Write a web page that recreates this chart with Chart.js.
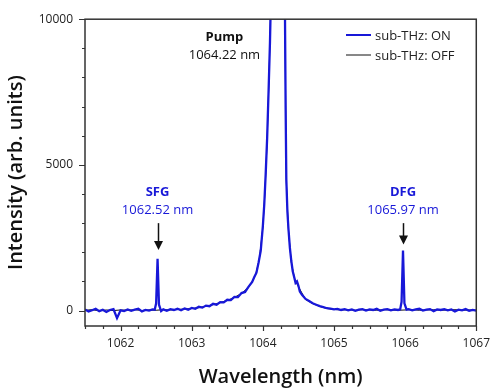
<!DOCTYPE html>
<html>
<head>
<meta charset="utf-8">
<script src="https://cdn.jsdelivr.net/npm/chart.js@4.4.0/dist/chart.umd.min.js"></script>
<style>
  html, body { margin: 0; padding: 0; background: #fff; }
</style>
</head>
<body>
<canvas id="myChart" width="500" height="390"></canvas>
<script>
'use strict';
// spectrum with sub-THz on (blue)
let wlOn = [1061.50, 1061.55, 1061.60, 1061.65, 1061.70, 1061.75, 1061.80, 1061.85, 1061.90, 1061.95,
  1062.00, 1062.05, 1062.10, 1062.15, 1062.20, 1062.25, 1062.30, 1062.35, 1062.40, 1062.45,
  1062.48, 1062.50, 1062.52, 1062.54, 1062.57,
  1062.60, 1062.65, 1062.70, 1062.75, 1062.80, 1062.85, 1062.90, 1062.95, 1063.00,
  1063.05, 1063.10, 1063.15, 1063.20, 1063.25, 1063.30, 1063.35, 1063.40, 1063.45, 1063.50,
  1063.55, 1063.60, 1063.65, 1063.70, 1063.75, 1063.80, 1063.85, 1063.88, 1063.91, 1063.94,
  1063.97, 1064.00, 1064.02, 1064.04, 1064.06, 1064.08, 1064.10, 1064.12, 1064.16, 1064.22,
  1064.28, 1064.31, 1064.32, 1064.33, 1064.345, 1064.36, 1064.38, 1064.40, 1064.42, 1064.44,
  1064.46, 1064.48, 1064.50, 1064.52, 1064.55, 1064.60, 1064.65, 1064.70, 1064.75, 1064.80,
  1064.85, 1064.90, 1064.95, 1065.00, 1065.05, 1065.10, 1065.15, 1065.20, 1065.25, 1065.30,
  1065.35, 1065.40, 1065.45, 1065.50, 1065.55, 1065.60, 1065.65, 1065.70, 1065.75, 1065.80,
  1065.85, 1065.90, 1065.93, 1065.95, 1065.97, 1065.99, 1066.02,
  1066.05, 1066.10, 1066.15, 1066.20, 1066.25, 1066.30, 1066.35, 1066.40, 1066.45, 1066.50,
  1066.55, 1066.60, 1066.65, 1066.70, 1066.75, 1066.80, 1066.85, 1066.90, 1066.95, 1067.00];
let intensityOn = [40, -30, 10, 60, -20, 30, -50, 20, 50, -260,
  10, -20, 40, -10, 30, 60, -30, 20, 0, 40,
  30, 250, 1780, 200, -20,
  40, -10, 50, 20, 60, 10, 70, 30, 90,
  60, 130, 100, 170, 150, 230, 200, 290, 280, 370,
  360, 470, 460, 600, 640, 820, 980, 1150, 1300, 1650,
  2050, 2900, 3650, 4700, 5900, 7500, 9200, 11500, 16000, 22000,
  16000, 10500, 7000, 4500, 3400, 2800, 2150, 1700, 1350, 1150,
  950, 1000, 850, 650, 540, 400, 330, 250, 200, 150,
  120, 80, 70, 40, 60, 20, 50, 10, 40, -10,
  30, 50, 0, 40, 20, 60, -10, 30, 50, 10,
  40, 20, 40, 300, 2060, 250, 30,
  50, 10, 40, 60, 0, 30, 50, -20, 40, 20,
  50, 10, 40, -30, 30, 10, 50, -10, 20, 0];

// spectrum with sub-THz off (black)
let wlOff = [1061.5, 1061.6, 1061.7, 1061.8, 1061.9, 1062.0, 1062.1, 1062.2, 1062.3, 1062.4,
  1062.5, 1062.6, 1062.7, 1062.8, 1062.9, 1063.0, 1063.1, 1063.2, 1063.3, 1063.4,
  1063.5, 1063.6, 1063.7, 1063.8, 1063.85, 1063.9, 1063.95, 1064.0, 1064.03, 1064.06,
  1064.09, 1064.12, 1064.22, 1064.31, 1064.33, 1064.36, 1064.4, 1064.45, 1064.5, 1064.6,
  1064.7, 1064.8, 1064.9, 1065.0, 1065.1, 1065.2, 1065.3, 1065.4, 1065.5, 1065.6,
  1065.7, 1065.8, 1065.9, 1066.0, 1066.1, 1066.2, 1066.3, 1066.4, 1066.5, 1066.6,
  1066.7, 1066.8, 1066.9, 1067.0];
let intensityOff = [10, 30, -10, 20, 0, 20, 10, 30, 0, 20,
  10, 30, 20, 40, 50, 70, 100, 150, 200, 270,
  350, 450, 590, 800, 1000, 1250, 1750, 2850, 4100, 5800,
  8300, 11400, 21000, 10000, 4400, 2750, 1650, 1050, 820, 380,
  240, 140, 70, 40, 20, 30, 10, 30, 20, 10,
  30, 20, 10, 20, 30, 10, 20, 30, 10, 20,
  30, 10, 20, 10];

let xTickLabels = [1062, 1063, 1064, 1065, 1066, 1067];
let xTicks = [1061.5, 1061.75, 1062, 1062.25, 1062.5, 1062.75, 1063, 1063.25, 1063.5, 1063.75,
  1064, 1064.25, 1064.5, 1064.75, 1065, 1065.25, 1065.5, 1065.75, 1066, 1066.25, 1066.5, 1066.75, 1067];
let yTickLabels = [0, 5000, 10000];
let yTicks = [0, 1000, 2000, 3000, 4000, 5000, 6000, 7000, 8000, 9000, 10000];
let seriesNames = ['sub-THz: ON', 'sub-THz: OFF'];
let seriesColors = ['#1818d8', '#111111'];

// labels over the peaks
let notes = [
  { title: 'Pump', value: '1064.22 nm', x: 1063.46, y1: 9370, y2: 8770, color: '#111' },
  { title: 'SFG', value: '1062.52 nm', x: 1062.52, y1: 4050, y2: 3450, color: '#1818d8', arrow: [3000, 2080] },
  { title: 'DFG', value: '1065.97 nm', x: 1065.97, y1: 4050, y2: 3450, color: '#1818d8', arrow: [3000, 2270] }
];

function toPoints(xs, ys) {
  let pts = [];
  for (let i = 0; i < xs.length; i++) {
    pts.push({ x: xs[i], y: ys[i] });
  }
  return pts;
}

const fontFam = '"Open Sans", "DejaVu Sans", sans-serif';

let extrasPlugin = {
  id: 'extras',
  afterDatasetsDraw(chart) {
    const ctx = chart.ctx;
    const area = chart.chartArea;
    const xs = chart.scales.x;
    const ys = chart.scales.y;
    ctx.save();

    // frame
    ctx.strokeStyle = '#333';
    ctx.lineWidth = 1.5;
    ctx.strokeRect(area.left, area.top, area.right - area.left, area.bottom - area.top);

    // ticks
    ctx.lineWidth = 1.2;
    ctx.beginPath();
    xs.ticks.forEach(t => {
      let px = Math.round(xs.getPixelForValue(t.value)) + 0.5;
      let major = xTickLabels.includes(t.value);
      ctx.moveTo(px, area.bottom);
      ctx.lineTo(px, area.bottom + (major ? 5 : 3));
    });
    ys.ticks.forEach(t => {
      let py = Math.round(ys.getPixelForValue(t.value)) + 0.5;
      let major = yTickLabels.includes(t.value);
      ctx.moveTo(area.left, py);
      ctx.lineTo(area.left - (major ? 6 : 3), py);
    });
    ctx.stroke();

    // annotations
    ctx.textAlign = 'center';
    ctx.textBaseline = 'middle';
    notes.forEach(n => {
      let px = xs.getPixelForValue(n.x);
      ctx.fillStyle = n.color;
      ctx.font = 'bold 13px ' + fontFam;
      ctx.fillText(n.title, px, ys.getPixelForValue(n.y1));
      ctx.font = '13px ' + fontFam;
      ctx.fillText(n.value, px, ys.getPixelForValue(n.y2));
      if (n.arrow) {
        let ax = Math.round(px) + 0.5;
        let a0 = ys.getPixelForValue(n.arrow[0]);
        let a1 = ys.getPixelForValue(n.arrow[1]);
        ctx.strokeStyle = '#111';
        ctx.fillStyle = '#111';
        ctx.lineWidth = 1.5;
        ctx.beginPath();
        ctx.moveTo(ax, a0);
        ctx.lineTo(ax, a1 - 6);
        ctx.stroke();
        ctx.beginPath();
        ctx.moveTo(ax - 4.5, a1 - 9);
        ctx.lineTo(ax + 4.5, a1 - 9);
        ctx.lineTo(ax, a1);
        ctx.closePath();
        ctx.fill();
      }
    });

    // legend
    ctx.textAlign = 'left';
    ctx.font = '13px ' + fontFam;
    for (let i = 0; i < seriesNames.length; i++) {
      let ly = 35 + i * 20;
      ctx.strokeStyle = seriesColors[i];
      ctx.lineWidth = i === 0 ? 2 : 1;
      ctx.beginPath();
      ctx.moveTo(346, ly);
      ctx.lineTo(371, ly);
      ctx.stroke();
      ctx.fillStyle = '#222';
      ctx.fillText(seriesNames[i], 375, ly + 1);
    }
    ctx.restore();
  }
};

let ctx = document.getElementById('myChart').getContext('2d');
let myChart = new Chart(ctx, {
  type: 'line',
  data: {
    datasets: [{
      label: seriesNames[0],
      data: toPoints(wlOn, intensityOn),
      borderColor: seriesColors[0],
      borderWidth: 2.3,
      pointRadius: 0,
      tension: 0,
      fill: false
    }, {
      label: seriesNames[1],
      data: toPoints(wlOff, intensityOff),
      borderColor: seriesColors[1],
      borderWidth: 1,
      pointRadius: 0,
      tension: 0,
      fill: false
    }]
  },
  options: {
    responsive: false,
    animation: false,
    devicePixelRatio: 1,
    layout: { padding: { top: 9, right: 22, left: 0, bottom: 0 } },
    plugins: {
      legend: { display: false },
      tooltip: { enabled: false }
    },
    scales: {
      x: {
        type: 'linear',
        min: 1061.5,
        max: 1067,
        grid: { display: false, drawTicks: false },
        border: { display: false },
        afterBuildTicks: function (scale) {
          scale.ticks = xTicks.map(v => ({ value: v }));
        },
        ticks: {
          autoSkip: false,
          maxRotation: 0,
          padding: 10,
          color: '#222',
          font: { size: 12, family: fontFam },
          callback: function (v) {
            return xTickLabels.includes(v) ? String(v) : '';
          }
        },
        title: {
          display: true,
          text: 'Wavelength (nm)',
          color: '#111',
          font: { size: 20, weight: '600', family: fontFam },
          padding: { top: 0, bottom: 1 }
        },
        afterFit: function (scale) { scale.height = 64; }
      },
      y: {
        min: -530,
        max: 10000,
        grid: { display: false, drawTicks: false },
        border: { display: false },
        afterBuildTicks: function (scale) {
          scale.ticks = yTicks.map(v => ({ value: v }));
        },
        ticks: {
          autoSkip: false,
          padding: 12,
          color: '#222',
          font: { size: 12, family: fontFam },
          callback: function (v) {
            return yTickLabels.includes(v) ? String(v) : '';
          }
        },
        title: {
          display: true,
          text: 'Intensity (arb. units)',
          color: '#111',
          font: { size: 20, weight: '600', family: fontFam },
          padding: { top: 4, bottom: 0 }
        },
        afterFit: function (scale) { scale.width = 85; }
      }
    }
  },
  plugins: [extrasPlugin]
});
</script>
</body>
</html>
